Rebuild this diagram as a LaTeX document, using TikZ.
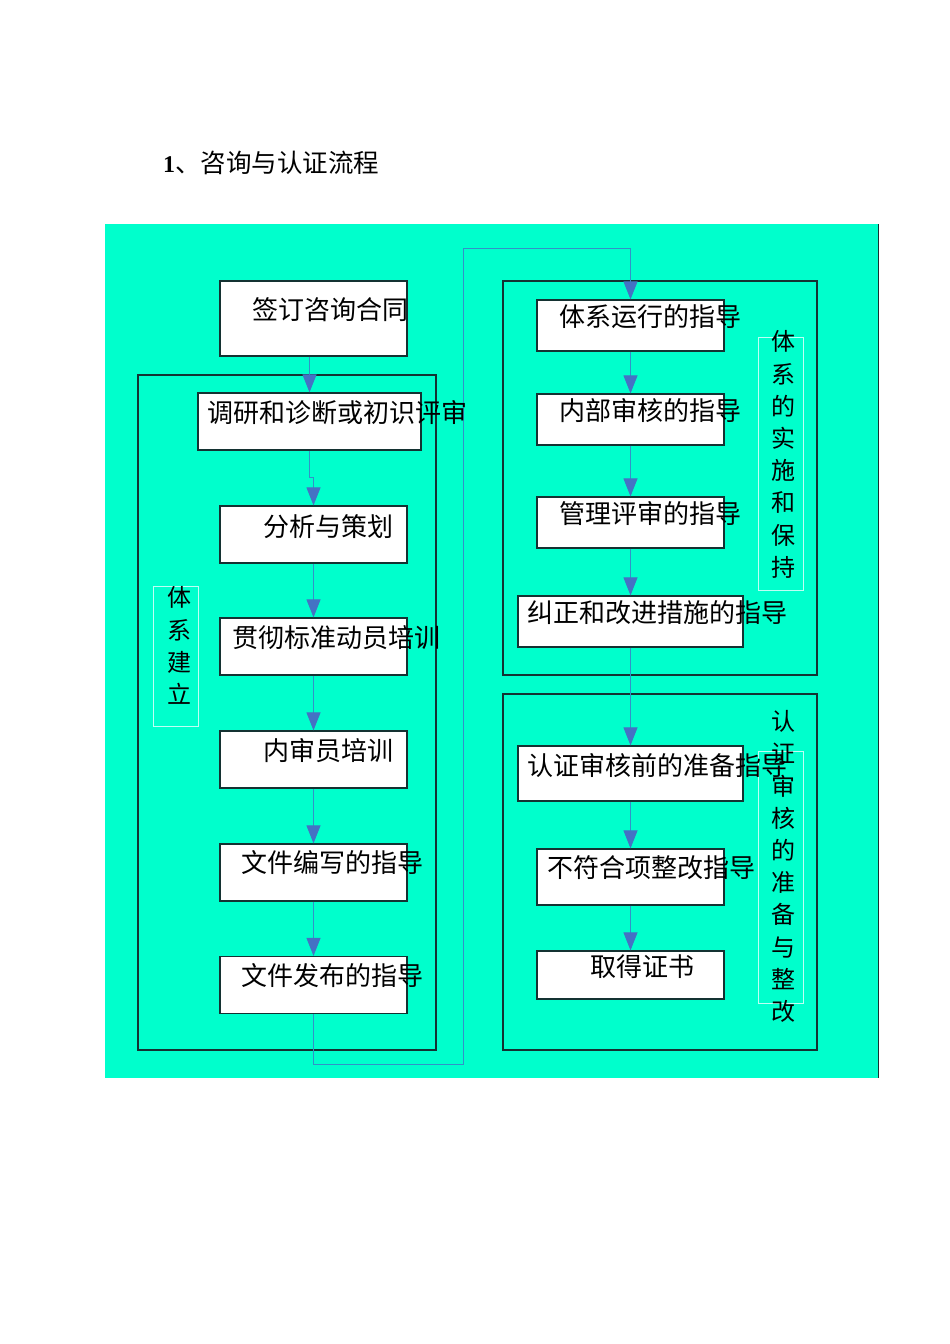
\documentclass[tikz,border=0pt]{standalone}
\usepackage{fontspec}
\setmainfont{Liberation Serif}
\newfontfamily\cjk{Noto Sans CJK SC}
\usetikzlibrary{arrows.meta}
\definecolor{bgcyan}{RGB}{0,255,204}
\definecolor{linkblue}{RGB}{50,145,200}
\definecolor{tipblue}{RGB}{68,114,196}
\definecolor{lblframe}{RGB}{190,255,245}
\definecolor{darkframe}{RGB}{20,50,50}
\tikzset{
  box/.style={draw=darkframe, line width=1.2pt, fill=white, inner sep=0pt},
  grp/.style={draw=darkframe, line width=1.2pt, inner sep=0pt},
  lbl/.style={draw=lblframe, line width=1pt, inner sep=0pt},
  boxtext/.style={anchor=west, inner sep=0pt, font=\cjk\fontsize{26}{27}\selectfont},
  vtext/.style={inner sep=0pt, align=center, font=\cjk\fontsize{24}{32.2}\selectfont},
  conn/.style={draw=linkblue, line width=1pt, -{Triangle[length=18pt,width=14pt,color=tipblue]}},
}
\begin{document}
\begin{tikzpicture}[x=1pt,y=-1pt]
\useasboundingbox (0,0) rectangle (950,1344);
% background
\fill[bgcyan] (105,224) rectangle (878,1078);
\draw[darkframe, line width=1pt] (878,224) -- (878,1078);
% title
\node[anchor=west, inner sep=0pt] (title) at (163,163) {\fontsize{24}{26}\selectfont\textbf{1}{\cjk\fontsize{25.5}{26}\selectfont 、咨询与认证流程}};
% group frames
\node[grp, minimum width=298pt, minimum height=675pt] (g1) at (287,712.5) {};
\node[grp, minimum width=314pt, minimum height=394pt] (g2) at (660,478) {};
\node[grp, minimum width=314pt, minimum height=356pt] (g3) at (660,872) {};
% label frames
\node[lbl, minimum width=45pt, minimum height=140pt] (l1) at (175.5,656) {};
\node[lbl, minimum width=45pt, minimum height=253pt] (l2) at (780.5,463.5) {};
\node[lbl, minimum width=45pt, minimum height=252pt] (l3) at (780.5,877) {};
% boxes left
\node[box, minimum width=187pt, minimum height=75pt] (b1) at (313.5,318.5) {};
\node[box, minimum width=223pt, minimum height=57pt] (b2) at (309.5,421.5) {};
\node[box, minimum width=187pt, minimum height=57pt] (b3) at (313.5,534.5) {};
\node[box, minimum width=187pt, minimum height=57pt] (b4) at (313.5,646.5) {};
\node[box, minimum width=187pt, minimum height=57pt] (b5) at (313.5,759.5) {};
\node[box, minimum width=187pt, minimum height=57pt] (b6) at (313.5,872.5) {};
\node[box, minimum width=187pt, minimum height=57pt] (b7) at (313.5,985) {};
% boxes right
\node[box, minimum width=187pt, minimum height=51pt] (r1) at (630.5,325.5) {};
\node[box, minimum width=187pt, minimum height=51pt] (r2) at (630.5,419.5) {};
\node[box, minimum width=187pt, minimum height=51pt] (r3) at (630.5,522.5) {};
\node[box, minimum width=225pt, minimum height=51pt] (r4) at (630.5,621.5) {};
\node[box, minimum width=225pt, minimum height=55pt] (r5) at (630.5,773.5) {};
\node[box, minimum width=187pt, minimum height=56pt] (r6) at (630.5,877) {};
\node[box, minimum width=187pt, minimum height=48pt] (r7) at (630.5,975) {};
% connectors
\coordinate (c1) at (463,1064);
\coordinate (c2) at (463,248);
\draw[conn] (b2.north |- b1.south) -- (b2.north);
\draw[conn] (b2.south) -- ++(0,27) -| (b3.north);
\draw[conn] (b3.south) -- (b4.north);
\draw[conn] (b4.south) -- (b5.north);
\draw[conn] (b5.south) -- (b6.north);
\draw[conn] (b6.south) -- (b7.north);
\draw[conn] (b7.south) |- (c1) -- (c2) -| (r1.north);
\draw[conn] (r1.south) -- (r2.north);
\draw[conn] (r2.south) -- (r3.north);
\draw[conn] (r3.south) -- (r4.north);
\draw[conn] (r4.south) -- (r5.north);
\draw[conn] (r5.south) -- (r6.north);
\draw[conn] (r6.south) -- (r7.north);
% box texts
\node[boxtext] (t1) at (252,310) {签订咨询合同};
\node[boxtext] (t2) at (207,413) {调研和诊断或初识评审};
\node[boxtext] (t3) at (263,527) {分析与策划};
\node[boxtext] (t4) at (232,638) {贯彻标准动员培训};
\node[boxtext] (t5) at (263,751) {内审员培训};
\node[boxtext] (t6) at (241,863) {文件编写的指导};
\node[boxtext] (t7) at (241,976) {文件发布的指导};
\node[boxtext] (u1) at (559,317) {体系运行的指导};
\node[boxtext] (u2) at (559,411) {内部审核的指导};
\node[boxtext] (u3) at (559,514) {管理评审的指导};
\node[boxtext] (u4) at (527,613) {纠正和改进措施的指导};
\node[boxtext] (u5) at (527,766) {认证审核前的准备指导};
\node[boxtext] (u6) at (547,868) {不符合项整改指导};
\node[boxtext] (u7) at (590,967) {取得证书};
% vertical labels
\node[vtext] (v1) at (179,645.5) {体\\系\\建\\立};
\node[vtext] (v2) at (783,454.5) {体\\系\\的\\实\\施\\和\\保\\持};
\node[vtext] (v3) at (783,866.5) {认\\证\\审\\核\\的\\准\\备\\与\\整\\改};
\end{tikzpicture}
\end{document}
